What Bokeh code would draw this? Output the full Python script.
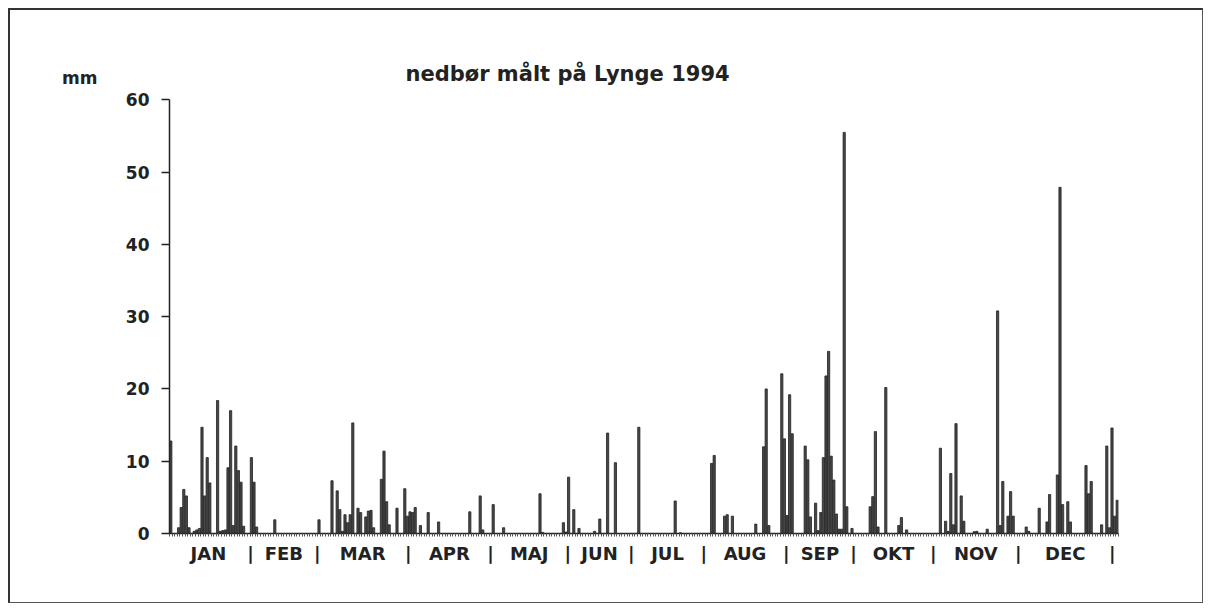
from bokeh.plotting import figure
from bokeh.models import ColumnDataSource, FixedTicker, Label, LinearAxis, Range1d
from bokeh.embed import file_html
from bokeh.resources import INLINE

# ---- data: daily precipitation (mm), Lynge 1994 (day of year, value) ----
days = [1, 4, 5, 6, 7, 8, 10, 11, 12, 13, 14, 15, 16, 19, 20, 21, 22, 23, 24, 25, 26, 27, 28, 29,
        32, 33, 34, 41, 58,
        63, 65, 66, 67, 68, 69, 70, 71, 73, 74, 76, 77, 78, 79, 82, 83, 84, 85, 88,
        91, 92, 93, 94, 95, 97, 100, 104, 116, 120, 121,
        125, 129, 143, 144,
        152, 153, 154, 156, 158, 164, 166, 169, 172, 181,
        195, 197, 209, 210,
        214, 215, 217, 226, 229, 230, 231, 236, 237, 238, 239, 240,
        245, 246, 247, 249, 250, 251, 252, 253, 254, 255, 256, 257, 258, 259, 260, 261, 263,
        270, 271, 272, 273,
        276, 281, 282, 284, 297, 299, 300, 301, 302, 303, 305, 306,
        310, 311, 315, 319, 320, 321, 323, 324, 325, 330, 331,
        335, 338, 339, 342, 343, 344, 346, 347, 353, 354, 355, 359, 361, 362, 363, 364, 365]
mm = [12.8, 0.8, 3.6, 6.1, 5.2, 0.8, 0.3, 0.5, 0.7, 14.7, 5.2, 10.5, 7.0, 18.4, 0.3, 0.4, 0.5, 9.1, 17.0, 1.1, 12.1, 8.7, 7.1, 1.0,
      10.5, 7.1, 0.9, 1.9, 1.9,
      7.3, 5.9, 3.3, 0.3, 2.6, 1.5, 2.6, 15.3, 3.5, 2.9, 2.3, 3.1, 3.2, 0.8, 7.5, 11.4, 4.4, 1.2, 3.5,
      6.2, 2.4, 3.0, 2.9, 3.6, 1.1, 2.9, 1.6, 3.0, 5.2, 0.5,
      4.0, 0.8, 5.5, 0.15,
      1.5, 0.2, 7.8, 3.3, 0.7, 0.3, 2.0, 13.9, 9.8, 14.7,
      4.5, 0.1, 9.7, 10.8,
      2.4, 2.6, 2.4, 1.3, 12.0, 20.0, 1.1, 22.1, 13.1, 2.5, 19.2, 13.8,
      12.1, 10.2, 2.3, 4.2, 0.4, 2.9, 10.5, 21.8, 25.2, 10.7, 7.4, 2.7, 0.6, 0.6, 55.5, 3.7, 0.7,
      3.7, 5.1, 14.1, 0.9,
      20.2, 1.1, 2.2, 0.5, 11.8, 1.7, 0.3, 8.3, 1.2, 15.2, 5.2, 1.7,
      0.25, 0.3, 0.6, 30.8, 1.1, 7.2, 2.4, 5.8, 2.4, 0.9, 0.3,
      3.5, 1.6, 5.4, 8.1, 47.9, 4.0, 4.4, 1.6, 9.4, 5.5, 7.2, 1.2, 12.1, 0.8, 14.6, 2.4, 4.6]
months = ["JAN", "FEB", "MAR", "APR", "MAJ", "JUN", "JUL", "AUG", "SEP", "OKT", "NOV", "DEC"]
y_ticks = [0, 10, 20, 30, 40, 50, 60]
title_text = "nedbør målt på Lynge 1994"
unit_text = "mm"

# ---- layout constants ----
sep_pos = [-1.3, 31.2, 56.8, 91.8, 123.5, 153.2, 177.6, 205.5, 237.2, 263.1, 293.8, 326.5, 362.6]
Y_TOP = 66          # frame extends above the 60 mark to hold the title
UNIT_Y = 63         # height of the "mm" unit text
TITLE_X, TITLE_Y = 153.1, 63.6

FONT = "DejaVu Sans"
INK = "#222222"

src = ColumnDataSource(dict(x=[d - 0.5 for d in days], top=mm))

p = figure(width=1195, height=595, x_range=Range1d(0, 365), y_range=Range1d(0, Y_TOP),
           output_backend="svg", toolbar_location=None,
           min_border_left=159, min_border_right=87, min_border_top=46, min_border_bottom=72)
p.styles = {"margin-left": "8px", "margin-top": "8px",
            "border-top": "2px solid #333", "border-left": "2px solid #333",
            "border-right": "1px solid #555", "border-bottom": "1px solid #555"}
p.outline_line_color = None
p.xgrid.visible = False
p.ygrid.visible = False
p.background_fill_color = "white"
p.border_fill_color = "white"

p.vbar(x="x", top="top", width=0.85, source=src,
       fill_color="#474747", line_color="#222222", line_width=0.8)

# y axis (line only up to 60)
ya = p.yaxis[0]
ya.bounds = (0, 60)
ya.ticker = FixedTicker(ticks=y_ticks)
ya.axis_line_color = INK
ya.axis_line_width = 1.5
ya.major_tick_line_color = INK
ya.major_tick_line_width = 1.5
ya.major_tick_out = 8
ya.major_tick_in = 0
ya.minor_tick_line_color = None
ya.major_label_standoff = 12
ya.major_label_text_font = FONT
ya.major_label_text_font_style = "bold"
ya.major_label_text_font_size = "17px"
ya.major_label_text_color = INK

# outer left axis that only carries the unit "mm" at the top
ua = LinearAxis(ticker=FixedTicker(ticks=[UNIT_Y]), major_label_overrides={UNIT_Y: unit_text})
ua.axis_line_color = None
ua.major_tick_line_color = None
ua.major_tick_out = 0
ua.major_tick_in = 0
ua.minor_tick_line_color = None
ua.major_label_standoff = 25
ua.major_label_text_font = FONT
ua.major_label_text_font_style = "bold"
ua.major_label_text_font_size = "17px"
ua.major_label_text_color = INK
p.add_layout(ua, "left")

# x axis: month row "| JAN | FEB | ... |" and daily minor ticks
name_pos = [round((sep_pos[i] + sep_pos[i + 1]) / 2, 2) for i in range(len(months))]
overrides = {s: "|" for s in sep_pos}
overrides.update({n: m for n, m in zip(name_pos, months)})
xa = p.xaxis[0]
xa.ticker = FixedTicker(ticks=sorted(sep_pos + name_pos), minor_ticks=list(range(0, 366)))
xa.major_label_overrides = overrides
xa.axis_line_color = INK
xa.axis_line_width = 1.5
xa.major_tick_line_color = None
xa.minor_tick_line_color = "#555555"
xa.minor_tick_out = 3
xa.minor_tick_in = 0
xa.major_label_standoff = 3
xa.major_label_text_font = FONT
xa.major_label_text_font_style = "bold"
xa.major_label_text_font_size = "18px"
xa.major_label_text_color = INK

# title inside the (extended) frame
p.add_layout(Label(x=TITLE_X, y=TITLE_Y, text=title_text, text_align="center", text_baseline="middle",
                   text_font=FONT, text_font_style="bold", text_font_size="21px", text_color=INK))

open("out.html", "w").write(file_html(p, INLINE))
